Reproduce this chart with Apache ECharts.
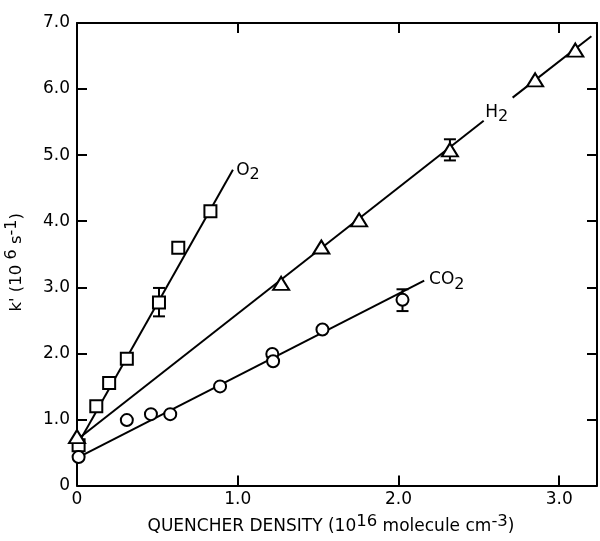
<!DOCTYPE html>
<html>
<head>
<meta charset="utf-8">
<script src="https://cdn.jsdelivr.net/npm/echarts@6/dist/echarts.min.js"></script>
<style>
  html, body { margin: 0; padding: 0; background: #fff; }
  #chart { width: 600px; height: 541px; }
</style>
</head>
<body>
<div id="chart"></div>
<script>
// Axis ticks
const xTickValues = [0, 1, 2, 3];
const yTickValues = [0, 1, 2, 3, 4, 5, 6, 7];

// Measured decay rates k' (10^6 s^-1) vs quencher density (10^16 molecule cm^-3)
const o2Points  = [[0.01, 0.61], [0.12, 1.20], [0.20, 1.55], [0.31, 1.92], [0.51, 2.77], [0.63, 3.60], [0.83, 4.15]];
const h2Points  = [[0.00, 0.74], [1.27, 3.06], [1.52, 3.61], [1.755, 4.02], [2.32, 5.08], [2.85, 6.14], [3.10, 6.59]];
const co2Points = [[0.01, 0.43], [0.31, 0.99], [0.46, 1.08], [0.58, 1.08], [0.89, 1.50], [1.215, 1.99], [1.22, 1.88], [1.527, 2.36], [2.025, 2.81]];

// Linear fits (H2 line is broken where its label sits)
const o2Fit   = [[0.02, 0.69], [0.97, 4.78]];
const h2FitA  = [[0.02, 0.73], [2.53, 5.52]];
const h2FitB  = [[2.71, 5.87], [3.20, 6.80]];
const co2Fit  = [[0.02, 0.44], [2.16, 3.10]];

// Error bars: [x, low, high]
const errorBars = [[0.51, 2.56, 2.99], [2.32, 4.92, 5.24], [2.025, 2.64, 2.97]];

const FONT = '"DejaVu Sans", Verdana, sans-serif';
const INK = '#000';

const fmt = v => (v === 0 ? '0' : v.toFixed(1));

function axisBase(extra) {
  return Object.assign({
    type: 'value',
    axisLine: { show: true, onZero: false, lineStyle: { color: INK, width: 2 } },
    axisTick: { show: true, inside: true, length: 10, lineStyle: { color: INK, width: 2 } },
    splitLine: { show: false }
  }, extra);
}

const lineStyle = { color: INK, width: 2 };
function fitSeries(data) {
  return { type: 'line', data, symbol: 'none', lineStyle, z: 2, silent: true, animation: false };
}
function markerSeries(data, symbol, size) {
  return {
    type: 'scatter', data, symbol, symbolSize: size, z: 5, animation: false,
    itemStyle: { color: '#fff', borderColor: INK, borderWidth: 2, opacity: 1 }
  };
}
function gasLabel(coord, base, sub) {
  return {
    type: 'scatter', data: [coord], symbolSize: 0, z: 6, animation: false, silent: true,
    itemStyle: { opacity: 1 },
    label: {
      show: true, position: 'right', distance: 0, opacity: 1,
      formatter: '{m|' + base + '}{s|' + sub + '}',
      rich: {
        m: { fontSize: 17, fontFamily: FONT, color: INK },
        s: { fontSize: 16, fontFamily: FONT, color: INK, padding: [9, 0, 0, 0] }
      }
    }
  };
}

const chart = echarts.init(document.getElementById('chart'), null, { renderer: 'canvas' });

chart.setOption({
  backgroundColor: '#fff',
  animation: false,
  grid: { left: 77, right: 3, top: 23, bottom: 55.5, outerBoundsMode: 'none', containLabel: false },
  xAxis: [
    axisBase({
      position: 'bottom', min: 0, max: 3.235,
      axisTick: { show: true, inside: true, length: 10, customValues: xTickValues, lineStyle: { color: INK, width: 2 } },
      axisLabel: { customValues: xTickValues, formatter: fmt, fontSize: 17, fontFamily: FONT, color: INK, margin: 6 },
      name: 'QUENCHER DENSITY (10{sup|16} molecule cm{sup|-3})',
      nameLocation: 'middle', nameGap: 26,
      nameTextStyle: {
        fontSize: 17, fontFamily: FONT, color: INK, padding: [0, 12, 0, 0],
        rich: { sup: { fontSize: 16.5, fontFamily: FONT, color: INK, padding: [0, 0, 9, 0] } }
      }
    }),
    axisBase({
      position: 'top', min: 0, max: 3.235,
      axisTick: { show: true, inside: true, length: 10, customValues: [1, 2, 3], lineStyle: { color: INK, width: 2 } },
      axisLabel: { show: false }
    })
  ],
  yAxis: [
    axisBase({
      position: 'left', min: 0, max: 7, interval: 1,
      axisLabel: { formatter: fmt, fontSize: 17, fontFamily: FONT, color: INK, margin: 7 },
      name: "k' (10 {sup|6} s{sup|-1})",
      nameLocation: 'middle', nameGap: 48, nameRotate: 90,
      nameTextStyle: {
        fontSize: 16.5, fontFamily: FONT, color: INK, padding: [0, 16, 0, 0],
        rich: { sup: { fontSize: 16, fontFamily: FONT, color: INK, padding: [0, 0, 9, 0] } }
      }
    }),
    axisBase({
      position: 'right', min: 0, max: 7, interval: 1,
      axisTick: { show: true, inside: true, length: 10, customValues: [1, 2, 3, 4, 5, 6], lineStyle: { color: INK, width: 2 } },
      axisLabel: { show: false }
    })
  ],
  series: [
    fitSeries(o2Fit),
    fitSeries(h2FitA),
    fitSeries(h2FitB),
    fitSeries(co2Fit),
    {
      type: 'custom', z: 3, animation: false, silent: true,
      data: errorBars,
      renderItem: function (params, api) {
        const x = api.value(0);
        const lo = api.coord([x, api.value(1)]);
        const hi = api.coord([x, api.value(2)]);
        const cap = 6;
        const style = { stroke: INK, lineWidth: 2 };
        return {
          type: 'group',
          children: [
            { type: 'line', shape: { x1: lo[0], y1: lo[1], x2: hi[0], y2: hi[1] }, style },
            { type: 'line', shape: { x1: lo[0] - cap, y1: lo[1], x2: lo[0] + cap, y2: lo[1] }, style },
            { type: 'line', shape: { x1: hi[0] - cap, y1: hi[1], x2: hi[0] + cap, y2: hi[1] }, style }
          ]
        };
      }
    },
    markerSeries(o2Points, 'rect', 12),
    markerSeries(h2Points, 'triangle', [16, 13]),
    markerSeries(co2Points, 'circle', 12),
    gasLabel([0.99, 4.77], 'O', '2'),
    gasLabel([2.54, 5.65], 'H', '2'),
    gasLabel([2.19, 3.11], 'CO', '2')
  ]
});
</script>
</body>
</html>
